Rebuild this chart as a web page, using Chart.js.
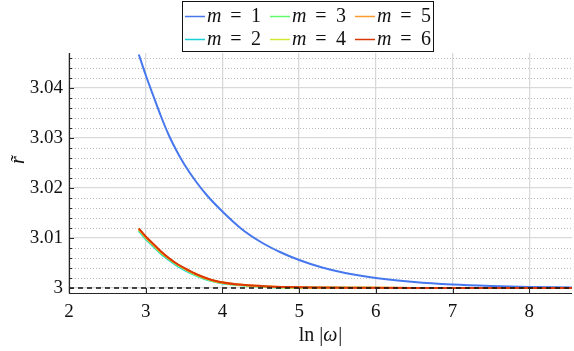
<!DOCTYPE html>
<html>
<head>
<meta charset="utf-8">
<script src="https://cdn.jsdelivr.net/npm/chart.js@4"></script>
<style>
  html, body { margin: 0; padding: 0; background: #fff; }
  #wrap { width: 574px; height: 351px; position: relative; }
</style>
</head>
<body>
<div id="wrap"><canvas id="chart"></canvas></div>
<script>
// --- Data ---
const seriesNames = ['m = 1', 'm = 2', 'm = 3', 'm = 4', 'm = 5', 'm = 6'];
const seriesColors = ['#4777EF', '#1BCFD4', '#61FC6C', '#D1E935', '#FE9B2D', '#D93806'];

const xM1 = [2.91, 3.0, 3.1, 3.2, 3.3, 3.4, 3.5, 3.65, 3.8, 4.0, 4.25, 4.5, 4.75, 5.0, 5.3, 5.6, 6.0, 6.5, 7.0, 7.5, 8.0, 8.557];
const yM1 = [3.0467, 3.0426, 3.0384, 3.0343, 3.0306, 3.0275, 3.0248, 3.0214, 3.0185, 3.0153, 3.0118, 3.0092, 3.0072, 3.0056,
             3.0041, 3.0030, 3.0020, 3.0012, 3.0007, 3.0004, 3.0002, 3.0001];

const xRest = [2.91, 3.00, 3.10, 3.20, 3.31, 3.42, 3.53, 3.64, 3.75, 3.86, 3.97, 4.20, 4.40, 4.60, 4.84, 5.20, 5.80, 6.50, 7.50, 8.557];
const yM2 = [3.0114, 3.0098, 3.0083, 3.0068, 3.0055, 3.0043, 3.0034, 3.0026, 3.0019, 3.0014, 3.0010, 3.0006, 3.0004, 3.0002, 3.0001, 3.00005, 3.00002, 3.00001, 3.0, 3.0];
const yM3 = [3.0116, 3.0100, 3.0085, 3.0070, 3.0057, 3.0045, 3.0036, 3.0027, 3.0020, 3.0015, 3.0011, 3.0006, 3.0004, 3.0002, 3.0001, 3.00006, 3.00003, 3.00001, 3.0, 3.0];
const yM4 = [3.0117, 3.0101, 3.0086, 3.0071, 3.0058, 3.0046, 3.0037, 3.0028, 3.0021, 3.0015, 3.0011, 3.0007, 3.0004, 3.0003, 3.0001, 3.00007, 3.00003, 3.00001, 3.0, 3.0];
const yM5 = [3.0118, 3.0102, 3.0087, 3.0072, 3.0058, 3.0047, 3.0037, 3.0029, 3.0021, 3.0016, 3.0012, 3.0007, 3.0005, 3.0003, 3.0002, 3.00008, 3.00004, 3.00002, 3.00001, 3.0];
const yM6 = [3.0119, 3.0103, 3.0088, 3.0073, 3.0059, 3.0047, 3.0038, 3.0029, 3.0022, 3.0016, 3.0012, 3.0007, 3.0005, 3.0003, 3.0002, 3.0001, 3.00005, 3.00002, 3.00001, 3.0];

const refLineX = [2, 8.557];
const refLineY = [3, 3];

const xTicks = [2, 3, 4, 5, 6, 7, 8];
const yTicks = [3, 3.01, 3.02, 3.03, 3.04];
const yMinorTicks = [3.002, 3.004, 3.006, 3.008, 3.012, 3.014, 3.016, 3.018, 3.022, 3.024, 3.026, 3.028,
                     3.032, 3.034, 3.036, 3.038, 3.042, 3.044, 3.046];

const X_MIN = 2, X_MAX = 8.557, Y_MIN = 2.999, Y_MAX = 3.047;
const SERIF = '"Liberation Serif", "DejaVu Serif", serif';

function toPoints(xs, ys) {
    return xs.map((x, i) => ({ x: x, y: ys[i] }));
}

const curveData = [
    toPoints(xM1, yM1), toPoints(xRest, yM2), toPoints(xRest, yM3),
    toPoints(xRest, yM4), toPoints(xRest, yM5), toPoints(xRest, yM6)
];

const datasets = curveData.map((pts, i) => ({
    label: seriesNames[i],
    data: pts,
    borderColor: seriesColors[i],
    borderWidth: 2,
    pointRadius: 0,
    cubicInterpolationMode: 'monotone',
    order: 6 - i   // m = 6 ends up on top
}));

datasets.push({
    label: 'ref',
    data: toPoints(refLineX, refLineY),
    borderColor: '#111',
    borderWidth: 1.3,
    borderDash: [5, 4],
    pointRadius: 0,
    order: 0
});

// --- Minor grid, inward ticks, axis lines, titles and legend ---
const decorPlugin = {
    id: 'decor',
    beforeDatasetsDraw(chart) {
        const { ctx, chartArea: a, scales: { y } } = chart;
        ctx.save();
        ctx.strokeStyle = '#bdbdbd';
        ctx.lineWidth = 1;
        ctx.setLineDash([1, 2]);
        yMinorTicks.forEach(v => {
            const py = Math.round(y.getPixelForValue(v)) + 0.5;
            ctx.beginPath();
            ctx.moveTo(a.left, py);
            ctx.lineTo(a.right, py);
            ctx.stroke();
        });
        ctx.restore();
    },
    afterDatasetsDraw(chart) {
        const { ctx, chartArea: a, scales: { x, y } } = chart;
        ctx.save();
        ctx.strokeStyle = '#262626';
        ctx.lineWidth = 1.2;
        // axis lines
        ctx.beginPath();
        ctx.moveTo(a.left + 0.5, a.top);
        ctx.lineTo(a.left + 0.5, a.bottom + 0.5);
        ctx.lineTo(a.right, a.bottom + 0.5);
        ctx.stroke();
        ctx.lineWidth = 1;
        // inward ticks
        xTicks.forEach(v => {
            const px = Math.round(x.getPixelForValue(v)) + 0.5;
            ctx.beginPath();
            ctx.moveTo(px, a.bottom);
            ctx.lineTo(px, a.bottom - 5);
            ctx.stroke();
        });
        yTicks.forEach(v => {
            const py = Math.round(y.getPixelForValue(v)) + 0.5;
            ctx.beginPath();
            ctx.moveTo(a.left, py);
            ctx.lineTo(a.left + 5, py);
            ctx.stroke();
        });
        yMinorTicks.forEach(v => {
            const py = Math.round(y.getPixelForValue(v)) + 0.5;
            ctx.beginPath();
            ctx.moveTo(a.left, py);
            ctx.lineTo(a.left + 3, py);
            ctx.stroke();
        });

        ctx.fillStyle = '#111';
        ctx.textBaseline = 'middle';
        // x title: ln |ω|
        ctx.textAlign = 'left';
        const cx = (a.left + a.right) / 2;
        const p1 = 'ln |', p3 = '|';
        ctx.font = '20px ' + SERIF;
        const w1 = ctx.measureText(p1).width;
        const w3 = ctx.measureText(p3).width;
        ctx.font = 'italic 20px ' + SERIF;
        const w2 = ctx.measureText('ω').width + 1;
        const tx = cx - (w1 + w2 + w3) / 2;
        const ty = 336;
        ctx.font = '20px ' + SERIF;
        ctx.fillText(p1, tx, ty);
        ctx.font = 'italic 20px ' + SERIF;
        ctx.fillText('ω', tx + w1, ty);
        ctx.font = '20px ' + SERIF;
        ctx.fillText(p3, tx + w1 + w2, ty);

        // y title: r̃ rotated
        ctx.save();
        ctx.translate(19, 160);
        ctx.rotate(-Math.PI / 2);
        ctx.textAlign = 'center';
        ctx.font = 'italic 20px ' + SERIF;
        ctx.fillText('r\u0303', 0, 0);
        ctx.restore();

        // legend box
        ctx.fillStyle = '#fff';
        ctx.fillRect(182, 1, 252, 51);
        ctx.strokeStyle = '#111';
        ctx.lineWidth = 1;
        ctx.strokeRect(182.5, 1.5, 251, 50);
        const colX = [185, 270, 355];
        const rowY = [16, 39];
        const layout = [[0, 0], [0, 1], [1, 0], [1, 1], [2, 0], [2, 1]];
        seriesNames.forEach((name, i) => {
            const x0 = colX[layout[i][0]];
            const y0 = rowY[layout[i][1]];
            ctx.strokeStyle = seriesColors[i];
            ctx.lineWidth = 1.5;
            ctx.beginPath();
            ctx.moveTo(x0, y0 + 0.5);
            ctx.lineTo(x0 + 20, y0 + 0.5);
            ctx.stroke();
            ctx.fillStyle = '#111';
            ctx.textAlign = 'left';
            ctx.font = 'italic 20px ' + SERIF;
            ctx.fillText('m', x0 + 22, y0 + 1);
            ctx.textAlign = 'center';
            ctx.font = '20px ' + SERIF;
            ctx.fillText('=', x0 + 51, y0 + 1);
            ctx.fillText(name.split('= ')[1], x0 + 71, y0 + 1);
        });
        ctx.restore();
    }
};

new Chart(document.getElementById('chart').getContext('2d'), {
    type: 'line',
    data: { datasets: datasets },
    options: {
        responsive: true,
        maintainAspectRatio: false,
        animation: false,
        layout: { padding: { left: 0, right: 2, top: 53, bottom: 0 } },
        plugins: { legend: { display: false }, tooltip: { enabled: false } },
        scales: {
            x: {
                type: 'linear',
                min: X_MIN,
                max: X_MAX,
                afterBuildTicks: scale => { scale.ticks = xTicks.map(v => ({ value: v })); },
                afterFit: scale => { scale.height = 58; },
                grid: { color: '#d9d9d9', lineWidth: 1.3, drawTicks: false },
                border: { display: false },
                ticks: {
                    padding: 8,
                    color: '#111',
                    font: { family: SERIF, size: 19 },
                    maxRotation: 0
                }
            },
            y: {
                type: 'linear',
                min: Y_MIN,
                max: Y_MAX,
                afterBuildTicks: scale => { scale.ticks = yTicks.map(v => ({ value: v })); },
                afterFit: scale => { scale.width = 69; },
                grid: { color: '#d9d9d9', lineWidth: 1.3, drawTicks: false },
                border: { display: false },
                ticks: {
                    padding: 6,
                    color: '#111',
                    font: { family: SERIF, size: 19 },
                    callback: v => String(+v.toFixed(2))
                }
            }
        }
    },
    plugins: [decorPlugin]
});
</script>
</body>
</html>
